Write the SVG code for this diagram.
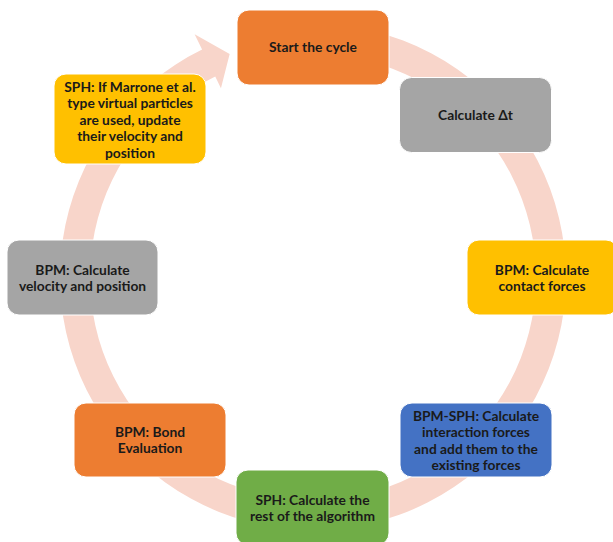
<svg xmlns="http://www.w3.org/2000/svg" width="613" height="542" viewBox="0 0 613 542">
<style>
.box{stroke:#ffffff;stroke-width:1}
.t{font-family:Lato,"Open Sans","Liberation Sans",sans-serif;font-weight:bold;font-size:13.8px;fill:#1a1a1a;text-anchor:middle}
.o{fill:#ED7D31}.g{fill:#A5A5A5}.y{fill:#FFC000}.b{fill:#4472C4}.gr{fill:#70AD47}
</style>
<rect width="613" height="542" fill="#ffffff"/>
<g id="connectors">
<path d="M313,24 A253,253 0 1 1 202.09,49.60 L194.63,34.32 L229.66,54.07 L220.94,88.25 L215.24,76.57 A223,223 0 1 0 313,54 Z" fill="#F8D5CA"/>
</g>
<g id="start"><rect class="box o" x="237" y="10" width="152" height="75" rx="12"/><text class="t" x="313" y="52">Start the cycle</text></g>
<g id="dt"><rect class="box g" x="399.5" y="77.5" width="152" height="75" rx="12"/><text class="t" x="475.5" y="119.5">Calculate Δt</text></g>
<g id="contact"><rect class="box y" x="467" y="240" width="151" height="75" rx="12"/><text class="t" x="542"><tspan x="542" y="274.5">BPM: Calculate</tspan><tspan x="542" y="290.5">contact forces</tspan></text></g>
<g id="interaction"><rect class="box b" x="400" y="403" width="152" height="74" rx="12"/><text class="t"><tspan x="476" y="420.5">BPM-SPH: Calculate</tspan><tspan x="476" y="437">interaction forces</tspan><tspan x="476" y="453.5">and add them to the</tspan><tspan x="476" y="470">existing forces</tspan></text></g>
<g id="sphrest"><rect class="box gr" x="236" y="470" width="153" height="75" rx="12"/><text class="t"><tspan x="312.5" y="504.5">SPH: Calculate the</tspan><tspan x="312.5" y="520.5">rest of the algorithm</tspan></text></g>
<g id="bond"><rect class="box o" x="74" y="403" width="152" height="74" rx="12"/><text class="t"><tspan x="150" y="436.5">BPM: Bond</tspan><tspan x="150" y="452.5">Evaluation</tspan></text></g>
<g id="velocity"><rect class="box g" x="7" y="240" width="151" height="75" rx="12"/><text class="t"><tspan x="82.5" y="274.5">BPM: Calculate</tspan><tspan x="82.5" y="290.5">velocity and position</tspan></text></g>
<g id="marrone"><rect class="box y" x="54" y="74" width="152" height="90" rx="12"/><text class="t"><tspan x="130" y="91.5">SPH: If Marrone et al.</tspan><tspan x="130" y="108">type virtual particles</tspan><tspan x="130" y="124.5">are used, update</tspan><tspan x="130" y="141">their velocity and</tspan><tspan x="130" y="157.5">position</tspan></text></g>
</svg>
